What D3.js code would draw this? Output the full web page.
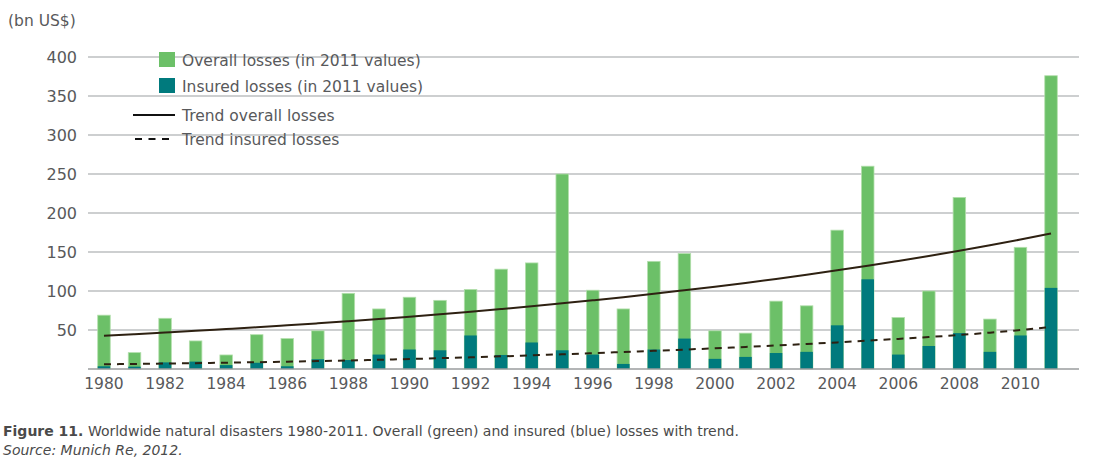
<!DOCTYPE html>
<html>
<head>
<meta charset="utf-8">
<script src="https://cdn.jsdelivr.net/npm/d3@7"></script>
<style>
  body { margin: 0; background: #fff; }
  svg { display: block; font-family: "DejaVu Sans", Verdana, sans-serif; }
</style>
</head>
<body>
<div id="chart"></div>
<script>
// DONNEES (en milliards US$ valeurs 2011)
const years = d3.range(1980, 2012);
const overallLosses = [69, 21, 65, 36, 18, 44, 39, 49, 97, 77,
                       92, 88, 102, 128, 136, 250, 101, 77, 138, 148,
                       49, 46, 87, 81, 178, 260, 66, 100, 220, 64,
                       156, 376];
const insuredLosses = [3.5, 3, 8.5, 9.5, 5, 8, 3.5, 12.5, 11.5, 18.5,
                       25, 24, 43, 18, 34, 24, 18.5, 6.5, 25, 39,
                       13, 15.5, 20.5, 22, 56, 115, 18.5, 29.5, 46, 22,
                       43, 104];
const trendOverall = [42.7, 44.7, 46.8, 48.9, 51.2, 53.5, 56.0, 58.6, 61.3, 64.1,
                      67.1, 70.2, 73.5, 76.9, 80.4, 84.2, 88.1, 92.1, 96.4, 100.9,
                      105.5, 110.4, 115.5, 120.9, 126.5, 132.3, 138.5, 144.9, 151.6, 158.6,
                      166.0, 173.7];
const trendInsured = [6.0, 6.5, 7.0, 7.5, 8.1, 8.7, 9.4, 10.1, 10.9, 11.8,
                      12.8, 13.9, 15.0, 16.2, 17.5, 18.9, 20.3, 21.8, 23.3, 24.9,
                      26.5, 28.3, 30.2, 32.1, 34.1, 36.3, 38.6, 41.0, 43.6, 46.6,
                      50.0, 54.0];
const yTicks = [50, 100, 150, 200, 250, 300, 350, 400];
const xTickYears = d3.range(1980, 2011, 2);
const legendBars = ['Overall losses (in 2011 values)', 'Insured losses (in 2011 values)'];
const legendLines = ['Trend overall losses', 'Trend insured losses'];

// couleurs et dimensions
let green = '#6cc068';
let greenEdge = '#b3dfac';
let teal = '#007a7d';
let lineColor = '#2e2112';
let textColor = '#58595b';
let font = '"DejaVu Sans", Verdana, sans-serif';

let width = 1114, height = 468;

let svg = d3.select('#chart').append('svg')
    .attr('width', width)
    .attr('height', height);

let x = d3.scaleBand()
    .domain(years)
    .range([88.7, 1066.3])
    .paddingInner(0.59)
    .paddingOuter(0.295);

let y = d3.scaleLinear()
    .domain([0, 400])
    .range([369, 57]);

// grille
let grid = svg.append('g').attr('class', 'grid');
grid.selectAll('line')
    .data(yTicks)
    .enter().append('line')
    .attr('x1', 88).attr('x2', 1079)
    .attr('y1', d => y(d)).attr('y2', d => y(d))
    .attr('stroke', '#bdbfc1')
    .attr('stroke-width', 1.5);

// axe Y
let yAxis = d3.axisLeft(y).tickValues(yTicks).tickSize(0).tickPadding(0);
svg.append('g')
    .attr('transform', 'translate(77,0)')
    .call(yAxis)
    .call(g => g.select('.domain').remove())
    .call(g => g.selectAll('text')
        .attr('fill', textColor)
        .attr('font-size', 16)
        .attr('font-family', font));

svg.append('text')
    .attr('x', 8).attr('y', 26)
    .attr('fill', textColor)
    .attr('font-size', 15.5)
    .text('(bn US$)');

// barres
let bars = svg.append('g').attr('class', 'bars');
bars.selectAll('rect.overall')
    .data(years)
    .enter().append('rect')
    .attr('class', 'overall')
    .attr('x', d => x(d))
    .attr('width', x.bandwidth())
    .attr('y', (d, i) => y(overallLosses[i]))
    .attr('height', (d, i) => y(0) - y(overallLosses[i]))
    .attr('fill', green)
    .attr('stroke', greenEdge)
    .attr('stroke-width', 0.8);

bars.selectAll('rect.insured')
    .data(years)
    .enter().append('rect')
    .attr('class', 'insured')
    .attr('x', d => x(d))
    .attr('width', x.bandwidth())
    .attr('y', (d, i) => y(insuredLosses[i]))
    .attr('height', (d, i) => y(0) - y(insuredLosses[i]))
    .attr('fill', teal);

// ligne de base
svg.append('line')
    .attr('x1', 88).attr('x2', 1079)
    .attr('y1', y(0)).attr('y2', y(0))
    .attr('stroke', '#9a9c9e')
    .attr('stroke-width', 1.5);

// tendances
let trendLine = d3.line()
    .x((d, i) => x(years[i]) + x.bandwidth() / 2)
    .y(d => y(d))
    .curve(d3.curveMonotoneX);

svg.append('path')
    .attr('d', trendLine(trendOverall))
    .attr('fill', 'none')
    .attr('stroke', lineColor)
    .attr('stroke-width', 2);

svg.append('path')
    .attr('d', trendLine(trendInsured))
    .attr('fill', 'none')
    .attr('stroke', lineColor)
    .attr('stroke-width', 2)
    .attr('stroke-dasharray', '7,6');

// axe X
let xAxis = d3.axisBottom(x).tickValues(xTickYears).tickSize(0).tickPadding(0);
svg.append('g')
    .attr('transform', 'translate(0,' + 378 + ')')
    .call(xAxis)
    .call(g => g.select('.domain').remove())
    .call(g => g.selectAll('text')
        .attr('fill', textColor)
        .attr('font-size', 15.5)
        .attr('font-family', font));

// legende
let legend = svg.append('g').attr('class', 'legend');
let barColors = [green, teal];
legendBars.forEach(function(label, i){
    legend.append('rect')
        .attr('x', 159).attr('y', 52 + i * 26)
        .attr('width', 16).attr('height', 15)
        .attr('fill', barColors[i]);
    legend.append('text')
        .attr('x', 182).attr('y', 66 + i * 26)
        .attr('fill', textColor)
        .attr('font-size', 15.5)
        .text(label);
});
legendLines.forEach(function(label, i){
    legend.append('line')
        .attr('x1', i ? 135 : 133).attr('x2', 175)
        .attr('y1', 115 + i * 24).attr('y2', 115 + i * 24)
        .attr('stroke', '#111')
        .attr('stroke-width', 2)
        .attr('stroke-dasharray', i ? '7,6.5' : null);
    legend.append('text')
        .attr('x', 182).attr('y', 121 + i * 24)
        .attr('fill', textColor)
        .attr('font-size', 15.5)
        .text(label);
});

// legende de la figure
let caption = svg.append('text')
    .attr('x', 3).attr('y', 436)
    .attr('fill', '#4a4a4a')
    .attr('font-size', 14);
caption.append('tspan').attr('font-weight', 'bold').text('Figure 11.');
caption.append('tspan').text(' Worldwide natural disasters 1980-2011. Overall (green) and insured (blue) losses with trend.');

svg.append('text')
    .attr('x', 3).attr('y', 455)
    .attr('fill', '#4a4a4a')
    .attr('font-size', 14)
    .attr('font-style', 'italic')
    .text('Source: Munich Re, 2012.');
</script>
</body>
</html>
